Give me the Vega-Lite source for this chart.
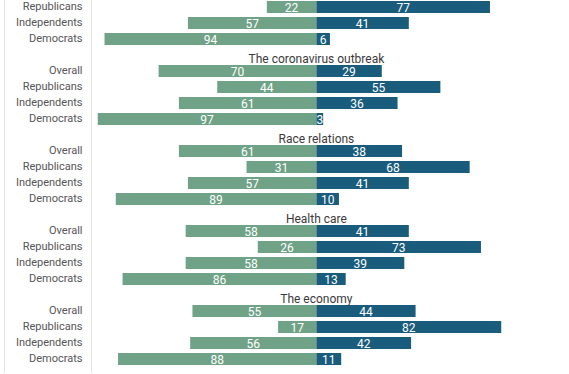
{
  "$schema": "https://vega.github.io/schema/vega-lite/v6.json",
  "width": 472,
  "height": 380,
  "autosize": {"type": "none"},
  "padding": {"left": 91, "top": -7, "right": 0, "bottom": 0},
  "config": {"view": {"stroke": null}, "font": "Roboto"},
  "datasets": {
    "bars": [
      {"row": "p0|Republicans", "side": "Disapprove", "value": 22},
      {"row": "p0|Republicans", "side": "Approve", "value": 77},
      {"row": "p0|Independents", "side": "Disapprove", "value": 57},
      {"row": "p0|Independents", "side": "Approve", "value": 41},
      {"row": "p0|Democrats", "side": "Disapprove", "value": 94},
      {"row": "p0|Democrats", "side": "Approve", "value": 6},
      {"row": "p1|Overall", "side": "Disapprove", "value": 70},
      {"row": "p1|Overall", "side": "Approve", "value": 29},
      {"row": "p1|Republicans", "side": "Disapprove", "value": 44},
      {"row": "p1|Republicans", "side": "Approve", "value": 55},
      {"row": "p1|Independents", "side": "Disapprove", "value": 61},
      {"row": "p1|Independents", "side": "Approve", "value": 36},
      {"row": "p1|Democrats", "side": "Disapprove", "value": 97},
      {"row": "p1|Democrats", "side": "Approve", "value": 3},
      {"row": "p2|Overall", "side": "Disapprove", "value": 61},
      {"row": "p2|Overall", "side": "Approve", "value": 38},
      {"row": "p2|Republicans", "side": "Disapprove", "value": 31},
      {"row": "p2|Republicans", "side": "Approve", "value": 68},
      {"row": "p2|Independents", "side": "Disapprove", "value": 57},
      {"row": "p2|Independents", "side": "Approve", "value": 41},
      {"row": "p2|Democrats", "side": "Disapprove", "value": 89},
      {"row": "p2|Democrats", "side": "Approve", "value": 10},
      {"row": "p3|Overall", "side": "Disapprove", "value": 58},
      {"row": "p3|Overall", "side": "Approve", "value": 41},
      {"row": "p3|Republicans", "side": "Disapprove", "value": 26},
      {"row": "p3|Republicans", "side": "Approve", "value": 73},
      {"row": "p3|Independents", "side": "Disapprove", "value": 58},
      {"row": "p3|Independents", "side": "Approve", "value": 39},
      {"row": "p3|Democrats", "side": "Disapprove", "value": 86},
      {"row": "p3|Democrats", "side": "Approve", "value": 13},
      {"row": "p4|Overall", "side": "Disapprove", "value": 55},
      {"row": "p4|Overall", "side": "Approve", "value": 44},
      {"row": "p4|Republicans", "side": "Disapprove", "value": 17},
      {"row": "p4|Republicans", "side": "Approve", "value": 82},
      {"row": "p4|Independents", "side": "Disapprove", "value": 56},
      {"row": "p4|Independents", "side": "Approve", "value": 42},
      {"row": "p4|Democrats", "side": "Disapprove", "value": 88},
      {"row": "p4|Democrats", "side": "Approve", "value": 11}
    ],
    "titles": [
      {"row": "t1|", "title": "The coronavirus outbreak"},
      {"row": "t2|", "title": "Race relations"},
      {"row": "t3|", "title": "Health care"},
      {"row": "t4|", "title": "The economy"}
    ]
  },
  "layer": [
    {
      "data": {"name": "bars"},
      "transform": [
        {"calculate": "datum.side === 'Disapprove' ? -datum.value : datum.value", "as": "pos"}
      ],
      "mark": {"type": "bar"},
      "encoding": {
        "y": {
          "field": "row", "type": "nominal",
          "scale": {"domain": ["p0|Republicans","p0|Independents","p0|Democrats","t1|","p1|Overall","p1|Republicans","p1|Independents","p1|Democrats","t2|","p2|Overall","p2|Republicans","p2|Independents","p2|Democrats","t3|","p3|Overall","p3|Republicans","p3|Independents","p3|Democrats","t4|","p4|Overall","p4|Republicans","p4|Independents","p4|Democrats"], "paddingInner": 0.25, "paddingOuter": 0.5},
          "axis": {"orient": "left", "title": null, "ticks": false, "domain": true, "domainColor": "#e3e3e3", "labelExpr": "split(datum.value, '|')[1]", "labelColor": "#555555", "labelFontSize": 11, "labelFont": "Roboto", "labelPadding": 9, "grid": false}
        },
        "x": {"field": "pos", "type": "quantitative", "scale": {"domain": [-100, 109.4], "nice": false, "zero": true}, "axis": null},
        "color": {"field": "side", "type": "nominal", "scale": {"domain": ["Disapprove", "Approve"], "range": ["#6fa287", "#195c7c"]}, "legend": null}
      }
    },
    {
      "data": {"name": "bars"},
      "transform": [
        {"calculate": "datum.side === 'Disapprove' ? -datum.value / 2 : datum.value / 2", "as": "mid"}
      ],
      "mark": {"type": "text", "color": "white", "fontSize": 12, "font": "Roboto", "align": "center", "baseline": "middle", "dy": 1},
      "encoding": {
        "y": {
          "field": "row", "type": "nominal",
          "scale": {"domain": ["p0|Republicans","p0|Independents","p0|Democrats","t1|","p1|Overall","p1|Republicans","p1|Independents","p1|Democrats","t2|","p2|Overall","p2|Republicans","p2|Independents","p2|Democrats","t3|","p3|Overall","p3|Republicans","p3|Independents","p3|Democrats","t4|","p4|Overall","p4|Republicans","p4|Independents","p4|Democrats"], "paddingInner": 0.25, "paddingOuter": 0.5},
          "axis": {"orient": "right", "title": null, "ticks": false, "labels": false, "domain": true, "domainColor": "#e3e3e3", "grid": false}
        },
        "x": {"field": "mid", "type": "quantitative"},
        "text": {"field": "value", "type": "quantitative"}
      }
    },
    {
      "data": {"name": "titles"},
      "mark": {"type": "text", "color": "#3a3a3a", "fontSize": 12, "font": "Roboto", "align": "center", "baseline": "middle", "dy": 4},
      "encoding": {
        "y": {
          "field": "row", "type": "nominal",
          "scale": {"domain": ["p0|Republicans","p0|Independents","p0|Democrats","t1|","p1|Overall","p1|Republicans","p1|Independents","p1|Democrats","t2|","p2|Overall","p2|Republicans","p2|Independents","p2|Democrats","t3|","p3|Overall","p3|Republicans","p3|Independents","p3|Democrats","t4|","p4|Overall","p4|Republicans","p4|Independents","p4|Democrats"], "paddingInner": 0.25, "paddingOuter": 0.5},
          "axis": {"orient": "left", "offset": 87, "title": null, "ticks": false, "labels": false, "domain": true, "domainColor": "#e3e3e3", "grid": false}
        },
        "x": {"datum": 0, "type": "quantitative"},
        "text": {"field": "title", "type": "nominal"}
      }
    }
  ],
  "resolve": {"axis": {"y": "independent"}}
}
